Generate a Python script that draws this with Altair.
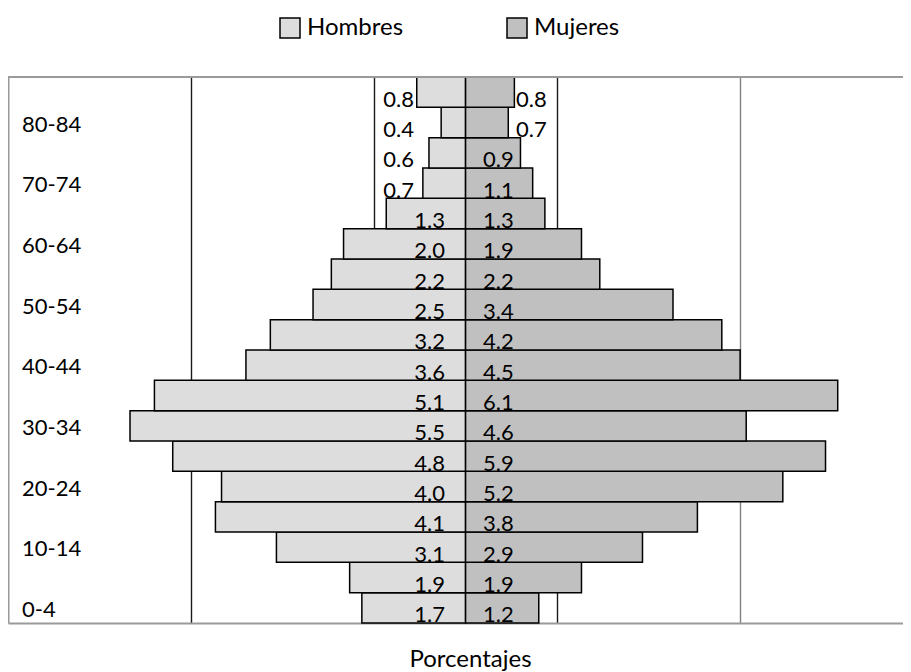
import altair as alt
import pandas as pd

ages = ["0-4", "5-9", "10-14", "15-19", "20-24", "25-29", "30-34", "35-39", "40-44",
        "45-49", "50-54", "55-59", "60-64", "65-69", "70-74", "75-79", "80-84", "85+"]
hombres = [1.7, 1.9, 3.1, 4.1, 4.0, 4.8, 5.5, 5.1, 3.6, 3.2, 2.5, 2.2, 2.0, 1.3, 0.7, 0.6, 0.4, 0.8]
mujeres = [1.2, 1.9, 2.9, 3.8, 5.2, 5.9, 4.6, 6.1, 4.5, 4.2, 3.4, 2.2, 1.9, 1.3, 1.1, 0.9, 0.7, 0.8]
shown_age_labels = ["0-4", "10-14", "20-24", "30-34", "40-44", "50-54", "60-64", "70-74", "80-84"]
grid_values = [-4.5, -1.5, 1.5, 4.5]
series = ["Hombres", "Mujeres"]
colors = ["#DDDDDD", "#C0C0C0"]

rows = []
for a, h, m in zip(ages, hombres, mujeres):
    rows.append({"edad": a, "sexo": "Hombres", "valor": h, "pos": -h})
    rows.append({"edad": a, "sexo": "Mujeres", "valor": m, "pos": m})
df = pd.DataFrame(rows)
lab_df = pd.DataFrame({"edad": shown_age_labels})

FONT = "Lato"
FS = 22
FS_TXT = 24
W, H = 895, 546
order = list(reversed(ages))

x_scale = alt.Scale(domain=[-7.5, 7.17], nice=False, zero=False)
y_scale = alt.Scale(paddingInner=0, paddingOuter=0)

bars = alt.Chart(df).mark_bar(stroke="#000000", strokeWidth=1.5).encode(
    x=alt.X("pos:Q", scale=x_scale, stack=None,
            axis=alt.Axis(values=grid_values, labels=False, ticks=False, grid=True,
                          gridColor=alt.expr("datum.value > 3 ? '#808080' : '#1a1a1a'"),
                          gridWidth=1.4, domain=True, domainColor="#9a9a9a", domainWidth=2,
                          title="Porcentajes", titleFont=FONT, titleFontSize=FS_TXT,
                          titleFontWeight="normal", titleColor="#000000", titlePadding=24,
                          titleX=462)),
    y=alt.Y("edad:N", sort=order, scale=y_scale,
            axis=alt.Axis(labels=False, ticks=False, title=None, grid=False,
                          domain=True, domainColor="#9a9a9a", domainWidth=2)),
    color=alt.Color("sexo:N", scale=alt.Scale(domain=series, range=colors),
                    legend=alt.Legend(title=None, orient="none", legendX=270, legendY=-61,
                                      direction="horizontal", symbolType="square",
                                      symbolSize=400, symbolStrokeColor="#000000",
                                      symbolStrokeWidth=1.5, labelFont=FONT,
                                      labelFontSize=FS_TXT, labelColor="#000000",
                                      labelOffset=5, columnPadding=100)),
)

top_border = alt.Chart(lab_df).mark_rule(color="#9a9a9a", strokeWidth=2).encode(
    y=alt.value(0), x=alt.value(0), x2=alt.value(W)
)

lab_h = alt.Chart(df).transform_filter("datum.sexo == 'Hombres'").transform_calculate(
    lx="datum.valor < 0.85 ? -0.844 : -0.336"
).mark_text(align="right", baseline="alphabetic", dy=14.5, font=FONT, fontSize=FS,
            color="#000000").encode(
    x=alt.X("lx:Q", scale=x_scale),
    y=alt.Y("edad:N", sort=order, scale=y_scale),
    text=alt.Text("valor:Q", format=".1f"),
)

lab_m = alt.Chart(df).transform_filter("datum.sexo == 'Mujeres'").transform_calculate(
    lx="datum.valor < 0.85 ? 0.828 : 0.287"
).mark_text(align="left", baseline="alphabetic", dy=14.5, font=FONT, fontSize=FS,
            color="#000000").encode(
    x=alt.X("lx:Q", scale=x_scale),
    y=alt.Y("edad:N", sort=order, scale=y_scale),
    text=alt.Text("valor:Q", format=".1f"),
)

age_labels = alt.Chart(lab_df).transform_calculate(lx="-7.27").mark_text(
    align="left", baseline="middle", dy=2, font=FONT, fontSize=FS, color="#000000"
).encode(
    x=alt.X("lx:Q", scale=x_scale),
    y=alt.Y("edad:N", sort=order, scale=y_scale),
    text="edad:N",
)

chart = alt.layer(bars, top_border, lab_h, lab_m, age_labels).properties(
    width=W, height=H,
    autosize=alt.AutoSizeParams(type="none"),
    padding={"left": 0, "top": 69, "right": 0, "bottom": 52},
    background="#ffffff",
).configure_view(stroke=None)

chart.save("out.html", embed_options={"renderer": "svg", "actions": False})
